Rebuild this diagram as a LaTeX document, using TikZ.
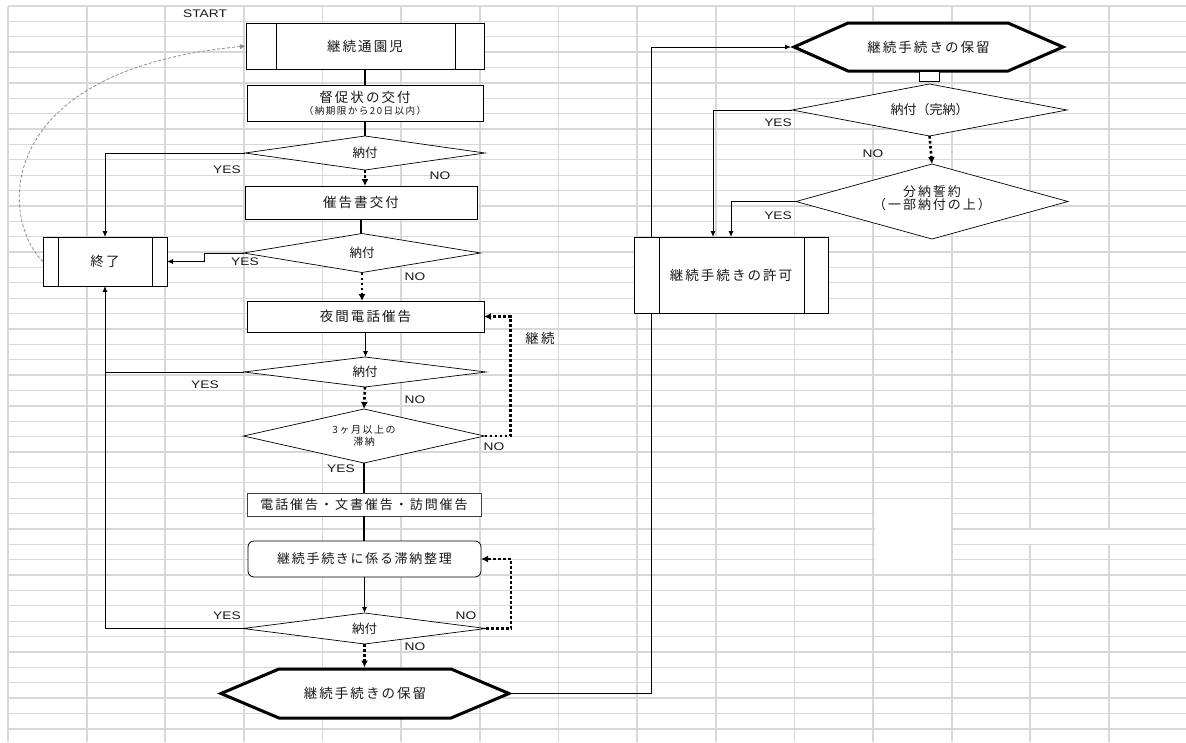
\documentclass[tikz,border=0pt]{standalone}
\usepackage{fontspec}
\setmainfont{Liberation Sans}
\newfontfamily\jp[LetterSpace=15]{Noto Sans CJK JP}
\newfontfamily\jpn{Noto Sans CJK JP}
\newfontfamily\lat[FakeStretch=1.25]{Liberation Sans}
\usetikzlibrary{shapes.geometric,arrows.meta}
\pgfdeclarelayer{gridlayer}
\pgfdeclarelayer{behind}
\pgfsetlayers{gridlayer,behind,main}
\definecolor{gridc}{RGB}{216,216,216}
\definecolor{ink}{RGB}{25,25,25}
\tikzset{
  boxn/.style={draw=black, line width=0.8pt, fill=white, inner sep=0pt, outer sep=0pt, text=ink, font=\jp\fontsize{13.5}{15}\selectfont},
  dia/.style={diamond, draw=black, line width=0.7pt, fill=white, inner sep=0pt, outer sep=0pt, text=ink, font=\jpn\fontsize{12.5}{14}\selectfont},
  hexn/.style={inner sep=0pt, outer sep=0pt, text=ink, font=\jp\fontsize{13.5}{15}\selectfont},
  hexline/.style={draw=black, line width=3pt, fill=white},
  lbl/.style={text=ink, font=\lat\fontsize{11}{12}\selectfont, inner sep=0pt},
  jlbl/.style={text=ink, font=\jp\fontsize{13.5}{15}\selectfont, inner sep=0pt},
  tip/.style={-{Latex[length=6pt,width=5pt]}},
  ln/.style={draw=black, line width=0.9pt},
  heavy/.style={draw=black, line width=2pt},
  dots/.style={draw=black, line width=2.6pt, dash pattern=on 2.6pt off 2.4pt, -{Latex[length=7pt,width=7pt]}},
  gridh/.style={draw=gridc, line width=1.3pt},
  gridv/.style={draw=gridc, line width=1.8pt},
}
\begin{document}
\begin{tikzpicture}[x=1pt,y=-1pt]
\useasboundingbox (0,0) rectangle (1186,742);
\begin{pgfonlayer}{gridlayer}
\fill[white] (0,0) rectangle (1186,742);
\foreach \i in {0,...,47} \draw[gridh] (8,6+15.38*\i) -- (1186,6+15.38*\i);
\foreach \i in {0,...,14} \draw[gridv] (8+78.64*\i,6) -- (8+78.64*\i,742);
\fill[white] (874.5,500) rectangle (951,574);
\fill[white] (953,530) rectangle (1186,544);
\end{pgfonlayer}

% nodes
\node[lbl] (start) at (205,14) {START};
\node[boxn, minimum width=238pt, minimum height=46pt] (n1) at (365,46) {継続通園児};
\node[boxn, minimum width=236pt, minimum height=36pt, align=center] (n2) at (365,103) {督促状の交付\\[-3pt]{\fontsize{9.6}{10}\selectfont （納期限から20日以内）}};
\node[dia, minimum width=240pt, minimum height=34pt, aspect=7] (d1) at (365,153) {納付};
\node[boxn, minimum width=232pt, minimum height=33pt] (n3) at (361,202.5) {催告書交付};
\node[dia, minimum width=237pt, minimum height=39pt, aspect=6] (d2) at (362,253) {納付};
\node[boxn, minimum width=124pt, minimum height=49pt] (end) at (105,261.5) {終了};
\node[boxn, minimum width=237pt, minimum height=31pt] (n4) at (365.5,316.5) {夜間電話催告};
\node[dia, minimum width=241pt, minimum height=54pt, aspect=4.5, align=center, font=\jp\fontsize{10}{11.5}\selectfont] (d4) at (364,436) {3ヶ月以上の\\滞納};
\node[dia, minimum width=242pt, minimum height=30pt, aspect=8] (d3) at (365,372) {納付};
\node[boxn, minimum width=234pt, minimum height=23pt, draw=black!75, font=\jp\fontsize{13}{14}\selectfont] (n5) at (364,504.5) {電話催告・文書催告・訪問催告};
\node[boxn, rounded corners=6pt, minimum width=233pt, minimum height=36pt, font=\jpn\addfontfeatures{LetterSpace=13}\fontsize{13}{14}\selectfont] (n6) at (364.5,559) {継続手続きに係る滞納整理};
\node[dia, minimum width=243pt, minimum height=31pt, aspect=8] (d5) at (364.5,628.5) {納付};
\node[hexn, minimum width=288pt, minimum height=49pt] (hexb) at (365,693.5) {継続手続きの保留};
\node[hexn, minimum width=269pt, minimum height=48pt] (hext) at (928.5,47) {継続手続きの保留};
\node[draw=black, line width=0.8pt, fill=white, minimum width=20pt, minimum height=10pt, inner sep=0pt, outer sep=0pt] (tab) at (929,76) {};
\node[dia, minimum width=275pt, minimum height=52pt, aspect=5.3, font=\jpn\fontsize{13}{14}\selectfont] (r1) at (929.5,110) {納付（完納）};
\node[dia, minimum width=272pt, minimum height=75pt, aspect=3.6, align=center, font=\jp\fontsize{13}{13}\selectfont] (r2) at (932,201.5) {分納誓約\\（一部納付の上）\\[-6pt]};
\node[boxn, minimum width=194pt, minimum height=76pt] (perm) at (731,275) {継続手続きの許可};

% inner bars of predefined-process boxes
\draw[ln] ([xshift=30pt]n1.north west) -- ([xshift=30pt]n1.south west);
\draw[ln] ([xshift=-29pt]n1.north east) -- ([xshift=-29pt]n1.south east);
\draw[ln] ([xshift=15pt]end.north west) -- ([xshift=15pt]end.south west);
\draw[ln] ([xshift=-15pt]end.north east) -- ([xshift=-15pt]end.south east);
\draw[ln] ([xshift=25pt]perm.north west) -- ([xshift=25pt]perm.south west);
\draw[ln] ([xshift=-24pt]perm.north east) -- ([xshift=-24pt]perm.south east);

% hexagons and long connector (behind boxes)
\begin{pgfonlayer}{behind}
\draw[hexline] (hexb.west) -- ([xshift=58pt]hexb.north west) -- ([xshift=-58pt]hexb.north east) -- (hexb.east) -- ([xshift=-58pt]hexb.south east) -- ([xshift=58pt]hexb.south west) -- cycle;
\draw[hexline] (hext.west) -- ([xshift=54pt]hext.north west) -- ([xshift=-55pt]hext.north east) -- (hext.east) -- ([xshift=-55pt]hext.south east) -- ([xshift=54pt]hext.south west) -- cycle;
\draw[ln, tip, shorten >=3pt] (hexb.east) -- ([xshift=142pt]hexb.east) |- (hext.west);
\end{pgfonlayer}

% gray dashed return curve
\draw[draw=black!45, line width=0.8pt, dash pattern=on 3pt off 2pt, -{Latex[length=6pt,width=5pt]}] (end.west) .. controls (0,220) and (-10,70) .. (n1.west);

% connectors
\draw[heavy] (n1.south) -- (n2.north);
\draw[heavy] (n2.south) -- (d1.north);
\draw[ln, tip] (d1.west) -| (end.north);
\draw[dots] (d1.south) -- (d1.south |- n3.north);
\draw[ln, line width=1.3pt] (n3.south) -- (n3.south |- d2.north);
\draw[ln, tip] (d2.west) -- ([xshift=-39pt]d2.west) |- (end.east);
\draw[dots] (d2.south) -- (d2.south |- n4.north);
\draw[ln, tip] (n4.south) -- (n4.south |- d3.north);
\draw[ln] (d3.west) -- (d3.west -| end.south);
\draw[dots] (d3.south) -- (d4.north);
\draw[dots] (d4.east) -- ([xshift=26pt]d4.east) |- (n4.east);
\draw[heavy] (d4.south) -- (d4.south |- n5.north);
\draw[heavy] (n5.south) -- (n5.south |- n6.north);
\draw[ln, tip] (n6.south) -- (n6.south |- d5.north);
\draw[ln, tip] (d5.west) -| (end.south);
\draw[dots] (d5.east) -- ([xshift=25pt]d5.east) |- (n6.east);
\draw[dots, shorten >=1.5pt] (d5.south) -- (d5.south |- hexb.north);
\draw[ln, tip] (r1.west) -| ([xshift=-18pt]perm.north);
\draw[dots] (r1.south) -- (r2.north);
\draw[ln, tip] (r2.west) -| (perm.north);

% labels
\node[lbl] (l1) at (227,169.5) {YES};
\node[lbl] (l2) at (440,176) {NO};
\node[lbl] (l3) at (245,262) {YES};
\node[lbl] (l4) at (415,277) {NO};
\node[lbl] (l5) at (205,385) {YES};
\node[lbl] (l6) at (415,400) {NO};
\node[lbl] (l7) at (494,447) {NO};
\node[jlbl] (l8) at (540,338) {継続};
\node[lbl] (l9) at (341,469) {YES};
\node[lbl] (l10) at (227,616) {YES};
\node[lbl] (l11) at (466,616) {NO};
\node[lbl] (l12) at (415,647) {NO};
\node[lbl] (l13) at (778,123) {YES};
\node[lbl] (l14) at (873,154) {NO};
\node[lbl] (l15) at (778,216) {YES};
\end{tikzpicture}
\end{document}
